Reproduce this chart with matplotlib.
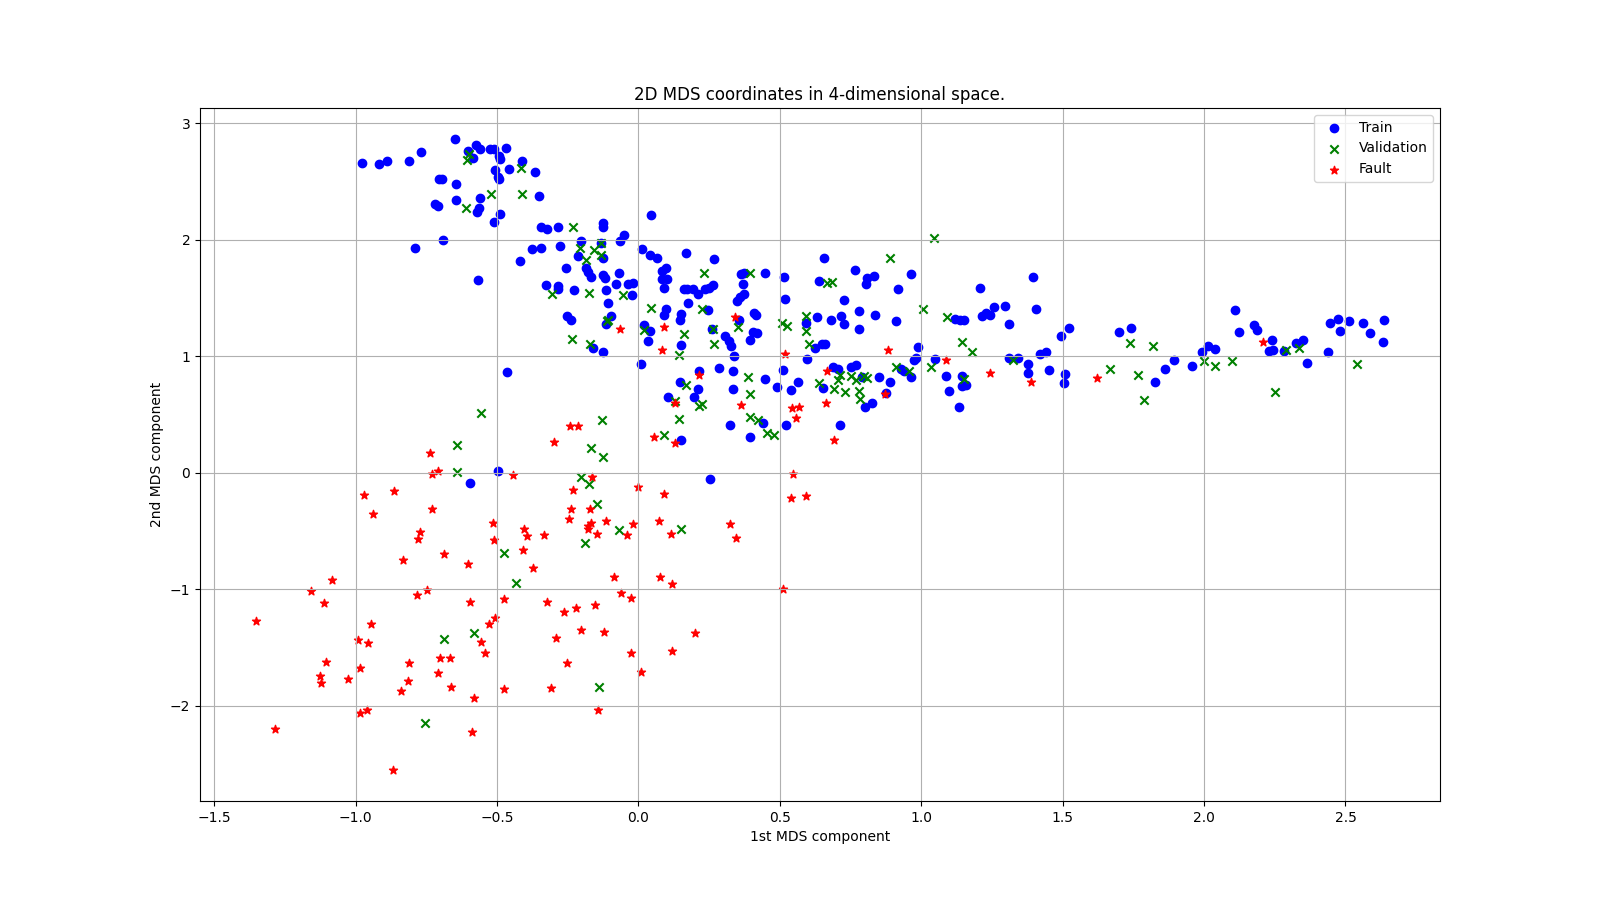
import numpy as np
from matplotlib import pyplot as plt

# 2D MDS coordinates (x, y)
train_pts = [
    (-0.976, 2.663), (-0.918, 2.654), (-0.889, 2.68), (-0.812, 2.68), (-0.770, 2.758),
    (-0.649, 2.862), (-0.601, 2.761), (-0.575, 2.813), (-0.561, 2.778), (-0.586, 2.706),
    (-0.526, 2.784), (-0.512, 2.784), (-0.468, 2.793), (-0.494, 2.72), (-0.489, 2.697),
    (-0.411, 2.68), (-0.456, 2.605), (-0.506, 2.597), (-0.495, 2.539), (-0.493, 2.519),
    (-0.367, 2.585), (-0.705, 2.524), (-0.694, 2.524), (-0.645, 2.484), (-0.720, 2.311),
    (-0.709, 2.291), (-0.645, 2.346), (-0.559, 2.360), (-0.562, 2.277), (-0.571, 2.236),
    (-0.488, 2.225), (-0.509, 2.153), (-0.350, 2.380), (-0.344, 2.107), (-0.323, 2.095),
    (-0.286, 2.112), (-0.125, 2.144), (-0.125, 2.115), (-0.052, 2.043), (-0.202, 1.994),
    (-0.064, 1.988), (-0.790, 1.931), (-0.691, 2.0), (-0.375, 1.919), (-0.346, 1.931),
    (-0.276, 1.948), (-0.213, 1.862), (-0.125, 1.847), (-0.133, 1.97), (-0.419, 1.816),
    (-0.255, 1.758), (-0.186, 1.755), (-0.178, 1.726), (-0.166, 1.683), (-0.125, 1.697),
    (-0.119, 1.669), (-0.068, 1.712), (-0.081, 1.625), (-0.036, 1.62), (-0.568, 1.66),
    (-0.327, 1.611), (-0.286, 1.605), (-0.284, 1.582), (-0.227, 1.573), (-0.115, 1.568),
    (-0.109, 1.455), (-0.098, 1.346), (-0.251, 1.346), (-0.237, 1.314),
    (0.046, 2.218), (0.014, 1.925), (0.041, 1.868), (0.065, 1.848), (0.169, 1.891),
    (0.268, 1.839), (0.083, 1.733), (0.098, 1.759), (0.083, 1.667), (0.101, 1.661),
    (0.089, 1.589), (0.364, 1.710), (0.375, 1.718), (0.449, 1.718), (0.514, 1.684),
    (0.370, 1.624), (0.160, 1.575), (0.171, 1.580), (0.193, 1.580), (0.209, 1.532),
    (0.236, 1.580), (0.248, 1.586), (0.264, 1.609), (0.177, 1.460), (0.372, 1.537),
    (0.360, 1.511), (0.349, 1.477), (0.518, 1.489), (0.096, 1.408), (0.089, 1.359),
    (0.246, 1.402), (0.151, 1.368), (0.148, 1.316), (0.410, 1.374), (0.414, 1.351),
    (0.355, 1.310), (0.018, 1.273), (0.041, 1.216), (-0.115, 1.279), (-0.162, 1.072),
    (-0.126, 1.037), (0.035, 1.135), (0.260, 1.236), (0.307, 1.172), (0.319, 1.129),
    (0.327, 1.092), (0.337, 1.006), (0.405, 1.207), (0.420, 1.201), (0.396, 1.138),
    (0.149, 1.098), (0.008, 0.937), (0.213, 0.876), (0.148, 0.776), (0.284, 0.899),
    (0.334, 0.871), (0.449, 0.805), (0.511, 0.885), (0.491, 0.741), (0.564, 0.784),
    (0.333, 0.718), (0.209, 0.718), (-0.018, 1.632), (-0.021, 1.523),
    (0.656, 1.843), (0.765, 1.743), (0.638, 1.649), (0.807, 1.671), (0.833, 1.691),
    (0.804, 1.620), (0.963, 1.706), (0.917, 1.580), (0.726, 1.483), (0.779, 1.389),
    (0.836, 1.357), (0.630, 1.340), (0.680, 1.311), (0.716, 1.343), (0.726, 1.280),
    (0.910, 1.303), (0.779, 1.234), (0.591, 1.286), (0.623, 1.074), (0.650, 1.106),
    (0.659, 1.106), (0.597, 0.977), (0.988, 1.080), (0.974, 0.971), (0.983, 0.989),
    (1.048, 0.977), (1.118, 1.320), (1.137, 1.314), (1.151, 1.309), (1.208, 1.589),
    (1.216, 1.343), (1.228, 1.371), (1.243, 1.357), (1.257, 1.423), (1.296, 1.434),
    (1.310, 1.280), (1.395, 1.680), (1.406, 1.406), (1.312, 0.986), (1.342, 0.986),
    (1.493, 1.177), (1.522, 1.243), (1.420, 1.023), (1.440, 1.040), (1.377, 0.937),
    (1.377, 0.857), (1.452, 0.886), (1.508, 0.851), (1.505, 0.771), (1.086, 0.831),
    (1.143, 0.834), (1.143, 0.743), (1.160, 0.754), (1.098, 0.706), (1.133, 0.566),
    (0.689, 0.909), (0.707, 0.894), (0.751, 0.909), (0.771, 0.929), (0.791, 0.823),
    (0.652, 0.729), (0.850, 0.823), (0.889, 0.777), (0.927, 0.891), (0.939, 0.871),
    (0.965, 0.823), (0.874, 0.686), (0.827, 0.600), (0.801, 0.566),
    (1.700, 1.207), (1.741, 1.241), (1.826, 0.784), (1.862, 0.891), (1.893, 0.968),
    (1.957, 0.920), (1.991, 1.040), (2.013, 1.092), (2.038, 1.063), (2.108, 1.397),
    (2.122, 1.207), (2.177, 1.270), (2.187, 1.230), (2.239, 1.141), (2.228, 1.043),
    (2.245, 1.057), (2.283, 1.046), (2.325, 1.115), (2.351, 1.141), (2.365, 0.940),
    (2.439, 1.034), (2.445, 1.287), (2.474, 1.322), (2.480, 1.218), (2.513, 1.302),
    (2.562, 1.287), (2.588, 1.201), (2.635, 1.313), (2.633, 1.126),
    (0.103, 0.647), (0.197, 0.647), (0.440, 0.431), (0.323, 0.414), (0.394, 0.310),
    (0.521, 0.414), (0.150, 0.279), (0.254, -0.052), (0.538, 0.709),
    (-0.464, 0.862), (-0.595, -0.086), (-0.495, 0.014), (0.712, 0.414),
]

validation_pts = [
    (-0.598, 2.735), (-0.607, 2.683), (-0.417, 2.614), (-0.521, 2.398), (-0.411, 2.398),
    (-0.610, 2.274), (-0.233, 2.110), (-0.133, 1.977), (-0.207, 1.928), (-0.156, 1.914),
    (-0.133, 1.870), (-0.187, 1.827), (-0.305, 1.539), (-0.175, 1.548), (-0.055, 1.525),
    (-0.106, 1.314),
    (0.233, 1.718), (0.396, 1.718), (0.045, 1.417), (0.225, 1.411), (0.351, 1.253),
    (0.508, 1.287), (0.526, 1.264), (0.018, 1.230), (-0.110, 1.302), (-0.236, 1.152),
    (-0.171, 1.109), (0.162, 1.193), (0.262, 1.236), (0.268, 1.109), (0.145, 1.009),
    (0.168, 0.756), (0.387, 0.822),
    (0.888, 1.843), (1.045, 2.02), (0.665, 1.634), (0.683, 1.640), (1.006, 1.411),
    (0.594, 1.349), (0.594, 1.214), (0.603, 1.106), (1.035, 0.909), (1.091, 1.337),
    (1.144, 1.123), (1.179, 1.037), (1.323, 0.966), (1.151, 0.806), (0.712, 0.837),
    (0.750, 0.829), (0.768, 0.800), (0.797, 0.829), (0.807, 0.817), (0.706, 0.794),
    (0.638, 0.771), (0.691, 0.720), (0.730, 0.691), (0.912, 0.909), (0.956, 0.871),
    (0.781, 0.700), (0.783, 0.634),
    (1.668, 0.891), (1.738, 1.115), (1.766, 0.842), (1.788, 0.624), (1.819, 1.086),
    (1.999, 0.963), (2.040, 0.914), (2.099, 0.957), (2.252, 0.695), (2.288, 1.055),
    (2.335, 1.072), (2.540, 0.931),
    (0.130, 0.618), (0.213, 0.575), (0.225, 0.589), (0.396, 0.681), (0.145, 0.466),
    (0.394, 0.483), (0.422, 0.454), (0.453, 0.345), (0.479, 0.325), (-0.128, 0.451),
    (-0.168, 0.216), (-0.124, 0.138), (0.089, 0.325), (-0.203, -0.037), (-0.174, -0.092),
    (-0.557, 0.517), (-0.643, 0.236), (-0.641, 0.009),
    (-0.477, -0.685), (-0.432, -0.943), (-0.686, -1.424), (-0.583, -1.372), (-0.756, -2.146),
    (-0.145, -0.269), (-0.069, -0.490), (0.151, -0.479), (-0.188, -0.599), (-0.138, -1.837),
]

fault_pts = [
    (0.340, 1.342), (0.091, 1.250), (-0.065, 1.236), (0.082, 1.057), (0.520, 1.023),
    (0.213, 0.836),
    (0.884, 1.057), (1.086, 0.971), (1.242, 0.857), (1.387, 0.783), (1.623, 0.817),
    (0.665, 0.871), (0.871, 0.677), (0.662, 0.600), (2.207, 1.126),
    (0.128, 0.603), (0.364, 0.583), (0.544, 0.555), (0.567, 0.569), (0.556, 0.468),
    (-0.242, 0.405), (-0.213, 0.405), (-0.299, 0.267), (0.056, 0.310), (0.130, 0.259),
    (-0.165, -0.037), (-0.230, -0.144), (-0.002, -0.124), (0.091, -0.178), (0.546, -0.014),
    (0.538, -0.216), (0.591, -0.201), (0.693, 0.284),
    (-0.736, 0.172), (-0.730, -0.009), (-0.710, 0.020), (-0.445, -0.017), (-0.969, -0.187),
    (-0.866, -0.152),
    (-0.940, -0.355), (-0.730, -0.307), (-0.515, -0.433), (-0.510, -0.579), (-0.771, -0.504),
    (-0.779, -0.564), (-0.834, -0.745), (-0.689, -0.699), (-0.601, -0.785), (-1.084, -0.923),
    (-1.157, -1.014), (-1.113, -1.115), (-0.783, -1.052), (-0.748, -1.009), (-0.595, -1.106),
    (-0.477, -1.086), (-0.506, -1.244), (-0.530, -1.301), (-1.351, -1.269), (-0.947, -1.301),
    (-0.993, -1.438), (-0.958, -1.458), (-0.557, -1.450), (-0.544, -1.544), (-1.104, -1.622),
    (-0.813, -1.630), (-0.701, -1.593), (-0.665, -1.587), (-0.986, -1.673), (-1.127, -1.745),
    (-1.122, -1.808), (-1.028, -1.774), (-0.708, -1.722), (-0.816, -1.785), (-0.839, -1.871),
    (-0.664, -1.842), (-0.477, -1.854), (-0.580, -1.931), (-0.984, -2.060), (-0.960, -2.037),
    (-0.587, -2.224), (-1.286, -2.203), (-0.869, -2.547),
    (-0.239, -0.312), (-0.171, -0.312), (-0.245, -0.398), (-0.168, -0.427), (-0.180, -0.456),
    (-0.177, -0.481), (-0.145, -0.521), (-0.113, -0.413), (-0.039, -0.536), (-0.018, -0.441),
    (0.071, -0.415), (0.116, -0.527), (0.322, -0.441), (0.344, -0.556), (-0.405, -0.484),
    (-0.394, -0.542), (-0.335, -0.536), (-0.408, -0.665), (-0.372, -0.814), (-0.085, -0.891),
    (0.078, -0.891), (0.117, -0.951), (0.511, -0.994), (-0.061, -1.029), (-0.028, -1.077),
    (-0.323, -1.106), (-0.262, -1.192), (-0.220, -1.158), (-0.152, -1.138), (-0.203, -1.352),
    (-0.121, -1.364), (-0.291, -1.421), (0.201, -1.378), (-0.028, -1.544), (0.119, -1.533),
    (-0.251, -1.636), (0.008, -1.711), (-0.310, -1.845), (-0.142, -2.032),
]

series_labels = ["Train", "Validation", "Fault"]


def main():
    train = np.array(train_pts)
    validation = np.array(validation_pts)
    fault = np.array(fault_pts)

    plt.figure(figsize=(16, 9), dpi=100)
    plt.scatter(train[:, 0], train[:, 1], c="blue", marker="o", label=series_labels[0])
    plt.scatter(validation[:, 0], validation[:, 1], c="green", marker="x", label=series_labels[1])
    plt.scatter(fault[:, 0], fault[:, 1], c="red", marker="*", label=series_labels[2])

    plt.title("2D MDS coordinates in 4-dimensional space.")
    plt.xlabel("1st MDS component")
    plt.ylabel("2nd MDS component")
    plt.legend(loc="upper right")
    plt.grid(True)
    plt.savefig("out.png")


if __name__ == "__main__":
    main()
